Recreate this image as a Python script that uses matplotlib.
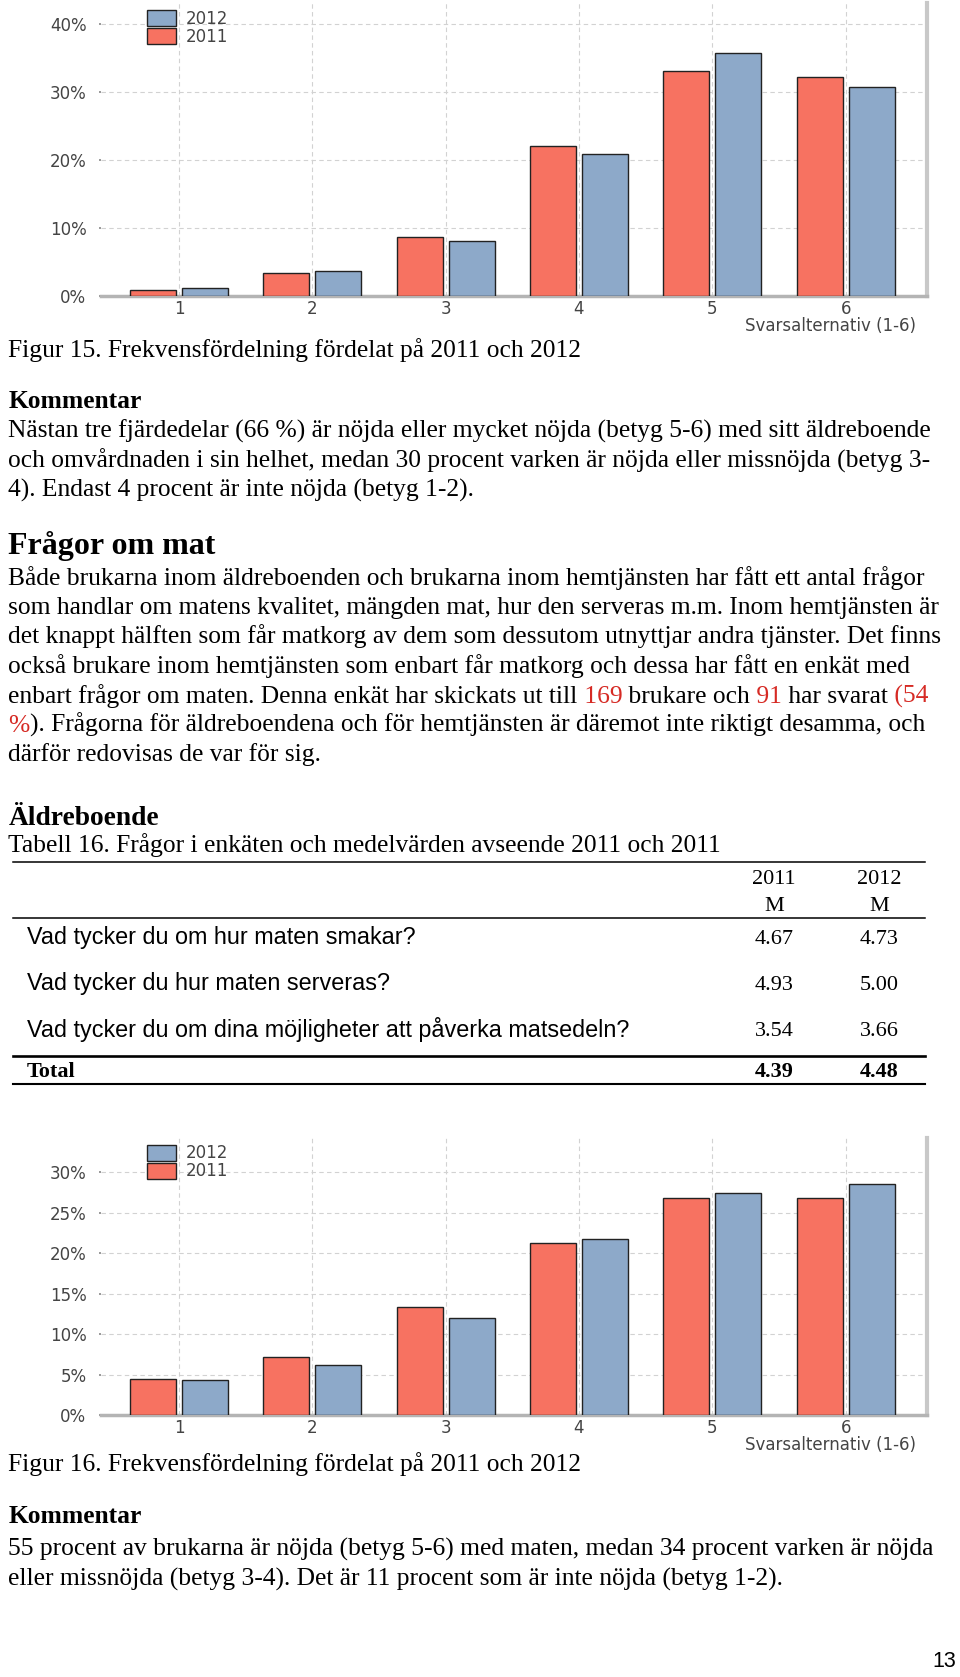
import numpy as np
import matplotlib.pyplot as plt

# sidans storlek i pixlar
W, H = 960, 1677

# ---------------------------------------------------------------------------
# data
# ---------------------------------------------------------------------------
svar = [1, 2, 3, 4, 5, 6]

fig15_2011 = [0.9, 3.3, 8.6, 22.0, 33.1, 32.2]
fig15_2012 = [1.2, 3.7, 8.1, 20.8, 35.7, 30.7]

fig16_2011 = [4.4, 7.2, 13.3, 21.2, 26.8, 26.8]
fig16_2012 = [4.3, 6.2, 12.0, 21.8, 27.4, 28.5]

fragor = ["Vad tycker du om hur maten smakar?",
          "Vad tycker du hur maten serveras?",
          "Vad tycker du om dina möjligheter att påverka matsedeln?"]
medel_2011 = ["4.67", "4.93", "3.54"]
medel_2012 = ["4.73", "5.00", "3.66"]
total_2011 = "4.39"
total_2012 = "4.48"

RED = '#F77261'
BLUE = '#8DA9C9'
TXTRED = '#D62A24'
SERIF = 'Liberation Serif'
SANS = 'Liberation Sans'
BODY = 18.4
CHART = 12

fig = plt.figure(figsize=(W / 100, H / 100), dpi=100)

# bakgrundsaxel i pixelkoordinater (y nedåt)
bg = fig.add_axes([0, 0, 1, 1])
bg.set_xlim(0, W)
bg.set_ylim(H, 0)
bg.axis('off')


def stapeldiagram(top, bottom, ymax, yticks, v2011, v2012):
    rect = [101 / W, 1 - bottom / H, 826 / W, (bottom - top) / H]
    ax = fig.add_axes(rect)
    x = np.array(svar)
    ax.bar(x - 0.195, v2011, 0.345, color=RED, edgecolor='#222222',
           linewidth=1.0, label='2011', zorder=3)
    ax.bar(x + 0.195, v2012, 0.345, color=BLUE, edgecolor='#222222',
           linewidth=1.0, label='2012', zorder=3)
    ax.set_xlim(0.415, 6.61)
    ax.set_ylim(0, ymax)
    ax.set_xticks(svar)
    ax.set_yticks(yticks)
    ax.set_yticklabels(['%d%%' % t for t in yticks])
    ax.grid(True, color='#d2d2d2', linestyle=(0, (4, 3)), linewidth=0.8, zorder=0)
    ax.tick_params(axis='x', length=0, pad=3, labelsize=CHART, labelcolor='#444444')
    ax.tick_params(axis='y', length=1.5, width=1.2, color='#888888', pad=9,
                   labelsize=CHART, labelcolor='#444444')
    for s in ['top', 'left']:
        ax.spines[s].set_visible(False)
    ax.spines['bottom'].set_color('#b4b4b4')
    ax.spines['bottom'].set_linewidth(2.5)
    ax.spines['right'].set_color('#c8c8c8')
    ax.spines['right'].set_linewidth(3)
    h, l = ax.get_legend_handles_labels()
    ax.legend(h[::-1], l[::-1], loc='upper left', bbox_to_anchor=(0.0557, 0.978),
              frameon=False, borderpad=0, labelspacing=0, handlelength=1.75,
              handleheight=1.1, handletextpad=0.55, borderaxespad=0,
              prop={'family': 'DejaVu Sans', 'size': 12}, labelcolor='#444444')
    ax.annotate('Svarsalternativ (1-6)', xy=(1, 0), xycoords='axes fraction',
                xytext=(-11, -30), textcoords='offset pixels', ha='right',
                va='center', fontsize=CHART, color='#444444')
    return ax


def rad(y, delar, size=BODY, x=8.5, weight='normal', family=SERIF):
    # en textrad, delar = [(text, färg), ...]
    t = None
    for s, c in delar:
        if t is None:
            t = bg.text(x, y, s, color=c, fontsize=size, family=family,
                        weight=weight, va='baseline', ha='left')
        else:
            t = bg.annotate(s, xy=(1, 0), xycoords=t, color=c, fontsize=size,
                            family=family, weight=weight, va='bottom', ha='left')
    return t


# ---------------------------------------------------------------------------
# Figur 15
# ---------------------------------------------------------------------------
stapeldiagram(3.3, 295.7, 43, [0, 10, 20, 30, 40], fig15_2011, fig15_2012)

rad(356.5, [("Figur 15. Frekvensfördelning fördelat på 2011 och 2012", 'black')])
rad(408, [("Kommentar", 'black')], weight='bold')
rad(438, [("Nästan tre fjärdedelar (66 %) är nöjda eller mycket nöjda (betyg 5-6) med sitt äldreboende", 'black')])
rad(467.5, [("och omvårdnaden i sin helhet, medan 30 procent varken är nöjda eller missnöjda (betyg 3-", 'black')])
rad(497, [("4). Endast 4 procent är inte nöjda (betyg 1-2).", 'black')])

rad(554, [("Frågor om mat", 'black')], size=23, weight='bold')
rad(585, [("Både brukarna inom äldreboenden och brukarna inom hemtjänsten har fått ett antal frågor", 'black')])
rad(614, [("som handlar om matens kvalitet, mängden mat, hur den serveras m.m. Inom hemtjänsten är", 'black')])
rad(643.5, [("det knappt hälften som får matkorg av dem som dessutom utnyttjar andra tjänster. Det finns", 'black')])
rad(673, [("också brukare inom hemtjänsten som enbart får matkorg och dessa har fått en enkät med", 'black')])
rad(702.5, [("enbart frågor om maten. Denna enkät har skickats ut till", 'black'), (" 169", TXTRED),
            (" brukare och", 'black'), (" 91", TXTRED), (" har svarat", 'black'), (" (54", TXTRED)])
rad(732, [("%", TXTRED), ("). Frågorna för äldreboendena och för hemtjänsten är däremot inte riktigt desamma, och", 'black')])
rad(761, [("därför redovisas de var för sig.", 'black')])

# ---------------------------------------------------------------------------
# Tabell 16
# ---------------------------------------------------------------------------
rad(825, [("Äldreboende", 'black')], size=19.8, weight='bold')
rad(852, [("Tabell 16. Frågor i enkäten och medelvärden avseende 2011 och 2011", 'black')])

x0, x1 = 13, 925
c11, c12 = 774, 879
bg.plot([x0, x1], [862, 862], color='black', lw=1.1)
bg.plot([x0, x1], [918, 918], color='black', lw=1.1)
bg.plot([x0, x1], [1056, 1056], color='black', lw=1.9)
bg.plot([x0, x1], [1084, 1084], color='black', lw=1.5)

bg.text(c11, 884, "2011", fontsize=16, family=SERIF, ha='center', va='baseline')
bg.text(c12, 884, "2012", fontsize=16, family=SERIF, ha='center', va='baseline')
bg.text(c11, 910.5, "M", fontsize=16, family=SERIF, ha='center', va='baseline')
bg.text(c12, 910.5, "M", fontsize=16, family=SERIF, ha='center', va='baseline')

rad_y = [944, 990, 1036.5]
for i in range(len(fragor)):
    bg.text(27, rad_y[i], fragor[i], fontsize=16.8, family=SANS, va='baseline')
    bg.text(c11, rad_y[i], medel_2011[i], fontsize=16, family=SERIF, ha='center', va='baseline')
    bg.text(c12, rad_y[i], medel_2012[i], fontsize=16, family=SERIF, ha='center', va='baseline')

bg.text(27, 1077, "Total", fontsize=16, family=SERIF, weight='bold', va='baseline')
bg.text(c11, 1077, total_2011, fontsize=16, family=SERIF, weight='bold', ha='center', va='baseline')
bg.text(c12, 1077, total_2012, fontsize=16, family=SERIF, weight='bold', ha='center', va='baseline')

# ---------------------------------------------------------------------------
# Figur 16
# ---------------------------------------------------------------------------
stapeldiagram(1138.3, 1415, 34.2, [0, 5, 10, 15, 20, 25, 30], fig16_2011, fig16_2012)

rad(1471.5, [("Figur 16. Frekvensfördelning fördelat på 2011 och 2012", 'black')])
rad(1523, [("Kommentar", 'black')], weight='bold')
rad(1556, [("55 procent av brukarna är nöjda (betyg 5-6) med maten, medan 34 procent varken är nöjda", 'black')])
rad(1586, [("eller missnöjda (betyg 3-4). Det är 11 procent som är inte nöjda (betyg 1-2).", 'black')])

bg.text(956, 1667, "13", fontsize=15.5, family=SANS, ha='right', va='baseline')

plt.savefig('out.png', dpi=100)
